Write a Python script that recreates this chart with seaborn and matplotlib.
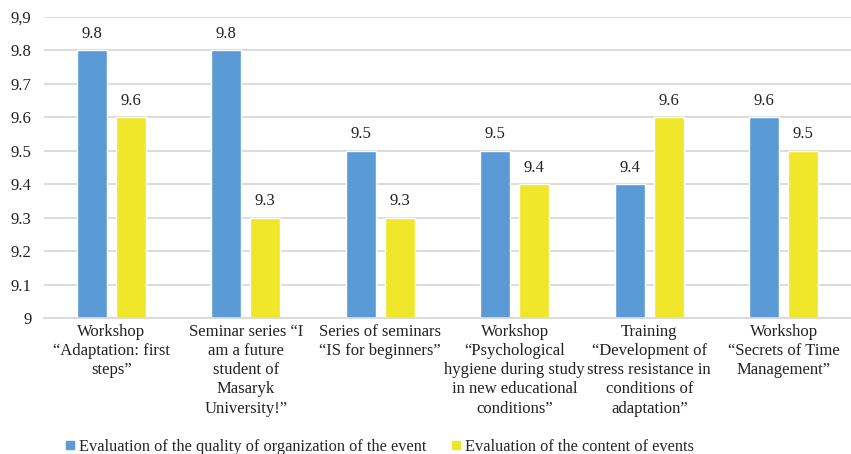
import matplotlib
matplotlib.use("Agg")
import matplotlib.pyplot as plt
import seaborn as sns
import pandas as pd
from matplotlib.ticker import FixedLocator, FixedFormatter
from matplotlib.lines import Line2D

categories = [
    "Workshop\n“Adaptation: first\nsteps”",
    "Seminar series “I\nam a future\nstudent of\nMasaryk\nUniversity!”",
    "Series of seminars\n“IS for beginners”",
    "Workshop\n“Psychological\nhygiene during study\nin new educational\nconditions”",
    "Training\n“Development of\nstress resistance in\nconditions of\nadaptation”",
    "Workshop\n“Secrets of Time\nManagement”",
]
series_names = [
    "Evaluation of the quality of organization of the event",
    "Evaluation of the content of events",
]
organization = [9.8, 9.8, 9.5, 9.5, 9.4, 9.6]
content = [9.6, 9.3, 9.3, 9.4, 9.6, 9.5]
y_ticks = [9.0, 9.1, 9.2, 9.3, 9.4, 9.5, 9.6, 9.7, 9.8, 9.9]
y_tick_labels = ["9", "9.1", "9.2", "9.3", "9.4", "9.5", "9.6", "9.7", "9.8", "9,9"]
colors = ["#5B9BD5", "#F0E62A"]

df = pd.DataFrame({
    "category": categories * 2,
    "series": [series_names[0]] * 6 + [series_names[1]] * 6,
    "value": organization + content,
})

sns.set_theme(style="white")
plt.rcParams["font.family"] = ["Liberation Serif", "DejaVu Serif"]

fig = plt.figure(figsize=(8.51, 4.54), dpi=100)
ax = fig.add_axes([44 / 851, 1 - 318 / 454, (851 - 44) / 851, (318 - 17) / 454])

sns.barplot(data=df, x="category", y="value", hue="series", palette=colors,
            order=categories, hue_order=series_names, width=0.58, gap=0.23,
            saturation=1, ax=ax, legend=False, errorbar=None)

ax.set_ylim(9.0, 9.9)
ax.yaxis.set_major_locator(FixedLocator(y_ticks))
ax.yaxis.set_major_formatter(FixedFormatter(y_tick_labels))
ax.grid(axis="y", color="#D9D9D9", linewidth=1.3)
ax.set_axisbelow(True)
for s in ["top", "right", "left"]:
    ax.spines[s].set_visible(False)
ax.spines["bottom"].set_color("#D9D9D9")
ax.spines["bottom"].set_linewidth(1.3)
ax.set_xlabel("")
ax.set_ylabel("")
ax.tick_params(axis="y", labelsize=12, length=0, pad=9, labelcolor="#222222")
ax.tick_params(axis="x", labelsize=12, length=0, pad=4, labelcolor="#222222")
for lab in ax.get_xticklabels():
    lab.set_linespacing(1.27)
    lab.set_verticalalignment("top")

for cont in ax.containers:
    ax.bar_label(cont, fmt="%.1f", padding=6, fontsize=12, color="#222222")

handles = [Line2D([], [], marker="s", linestyle="none", markersize=6,
                  markerfacecolor=c, markeredgecolor=c) for c in colors]
fig.legend(handles, series_names, loc="lower left", bbox_to_anchor=(50 / 851, -0.035),
           ncol=2, frameon=False, fontsize=11.8, handlelength=0.6, handletextpad=0.25,
           columnspacing=1.5)

fig.savefig("out.png", dpi=100)
